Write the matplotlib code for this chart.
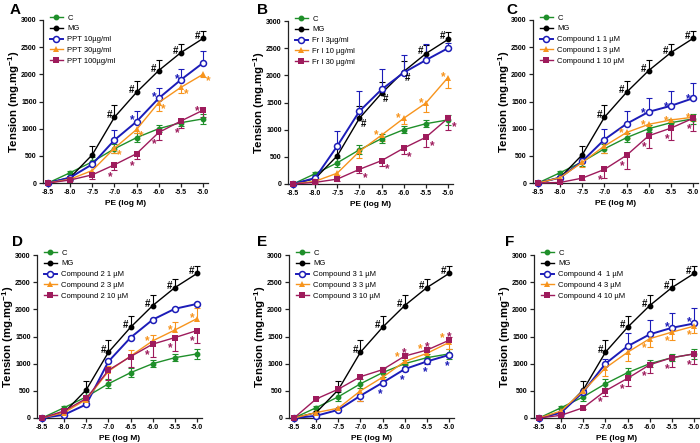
import numpy as np
import matplotlib
matplotlib.use("Agg")
import matplotlib.pyplot as plt

plt.rcParams["font.family"] = ["Liberation Sans", "DejaVu Sans"]
plt.rcParams["axes.unicode_minus"] = False
plt.rcParams["mathtext.fontset"] = "custom"
plt.rcParams["mathtext.bf"] = "Liberation Sans:bold"
plt.rcParams["mathtext.rm"] = "Liberation Sans:bold"
plt.rcParams["mathtext.default"] = "bf"

dose = np.array([-8.5, -8.0, -7.5, -7.0, -6.5, -6.0, -5.5, -5.0])
dose_labels = ["-8.5", "-8.0", "-7.5", "-7.0", "-6.5", "-6.0", "-5.5", "-5.0"]
tension_ticks = [0, 500, 1000, 1500, 2000, 2500, 3000]

# control and model groups (same in every panel)
c_mean = [0, 190, 390, 630, 835, 1000, 1110, 1180]
c_err = [0, 30, 80, 80, 80, 70, 60, 90]
mg_mean = [0, 100, 520, 1210, 1670, 2070, 2400, 2660]
mg_err = [0, 20, 160, 225, 210, 195, 160, 130]

# A: PPT
a_labels = ["PPT 10\u00b5g/ml", "PPT 30\u00b5g/ml", "PPT 100\u00b5g/ml"]
a_low = [0, 100, 345, 790, 1130, 1560, 1900, 2210]
a_low_err = [0, 20, 40, 180, 195, 185, 200, 225]
a_mid = [0, 70, 230, 640, 985, 1480, 1760, 2000]
a_mid_err = [0, 10, 40, 80, 70, 150, 110, 50]
a_high = [0, 55, 150, 335, 540, 930, 1140, 1340]
a_high_err = [0, 10, 80, 90, 100, 140, 130, 120]

# B: Fr I
b_labels = ["Fr I 3\u00b5g/ml", "Fr I 10 \u00b5g/ml", "Fr I 30 \u00b5g/ml"]
b_low = [0, 110, 700, 1340, 1740, 2050, 2280, 2500]
b_low_err = [0, 20, 280, 380, 370, 330, 300, 100]
b_mid = [0, 50, 200, 600, 900, 1210, 1490, 1960]
b_mid_err = [0, 10, 40, 130, 100, 110, 170, 190]
b_high = [0, 30, 90, 270, 430, 660, 860, 1210]
b_high_err = [0, 10, 30, 60, 100, 110, 170, 210]

# C: compound 1
c1_labels = ["Compound 1 1 \u00b5M", "Compound 1 3 \u00b5M", "Compound 1 10 \u00b5M"]
c1_low = [0, 100, 400, 800, 1090, 1310, 1420, 1560]
c1_low_err = [0, 20, 60, 190, 240, 250, 265, 280]
c1_mid = [0, 100, 380, 680, 930, 1080, 1160, 1210]
c1_mid_err = [0, 20, 90, 120, 100, 80, 60, 60]
c1_high = [0, 10, 90, 250, 510, 870, 1010, 1190]
c1_high_err = [0, 10, 30, 150, 250, 220, 220, 240]

# D: compound 2
c2_labels = ["Compound 2 1 \u00b5M", "Compound 2 3 \u00b5M", "Compound 2 10 \u00b5M"]
c2_low = [0, 60, 250, 1040, 1480, 1810, 2010, 2100]
c2_low_err = [0, 10, 20, 30, 30, 20, 20, 20]
c2_mid = [0, 100, 340, 860, 1140, 1420, 1620, 1830]
c2_mid_err = [0, 20, 40, 100, 120, 100, 150, 200]
c2_high = [0, 130, 360, 880, 1130, 1360, 1480, 1610]
c2_high_err = [0, 30, 50, 180, 200, 240, 250, 230]

# E: compound 3
c3_labels = ["Compound 3 1 \u00b5M", "Compound 3 3 \u00b5M", "Compound 3 10 \u00b5M"]
c3_low = [0, 40, 150, 410, 650, 900, 1040, 1160]
c3_low_err = [0, 10, 20, 100, 50, 40, 40, 40]
c3_mid = [0, 100, 180, 500, 750, 1040, 1190, 1390]
c3_mid_err = [0, 20, 30, 190, 60, 60, 80, 120]
c3_high = [0, 350, 530, 760, 890, 1140, 1250, 1430]
c3_high_err = [0, 20, 30, 40, 40, 60, 60, 60]

# F: compound 4
c4_labels = ["Compound 4  1 \u00b5M", "Compound 4 3 \u00b5M", "Compound 4 10 \u00b5M"]
c4_low = [0, 100, 480, 1000, 1320, 1540, 1660, 1740]
c4_low_err = [0, 20, 40, 80, 240, 260, 270, 280]
c4_mid = [0, 130, 500, 920, 1210, 1460, 1580, 1690]
c4_mid_err = [0, 20, 50, 140, 160, 150, 140, 130]
c4_high = [0, 50, 190, 500, 730, 980, 1110, 1180]
c4_high_err = [0, 10, 30, 100, 140, 160, 180, 180]

GREEN = "#1f8f2a"
BLUE = "#1c1cb8"
ORANGE = "#f7941d"
PURPLE = "#9e1b5c"

W, H = 700, 443
fig = plt.figure(figsize=(7.0, 4.43), dpi=100)

# panel: letter, left px, top px, letter x, labels, series, errors, error up flags,
# stars [(series, doses, dx, dy)], hashes [(doses, dx, dy)]
panels = [
    dict(letter="A", left=43, top=20, lx=10, ly=3, labels=a_labels,
         means=[a_low, a_mid, a_high], errs=[a_low_err, a_mid_err, a_high_err],
         up=[True, False, False],
         stars=[(0, [4, 5, 6], -4, 4), (1, [3, 4, 5, 6, 7], 5, -4),
                (2, [3, 4, 5, 6], -4, -9), (2, [7], -6, 2)],
         hashes=[([3, 4, 5, 6, 7], -5, 2)]),
    dict(letter="B", left=288, top=21, lx=257, ly=3, labels=b_labels,
         means=[b_low, b_mid, b_high], errs=[b_low_err, b_mid_err, b_high_err],
         up=[True, False, False],
         stars=[(1, [4, 5, 6, 7], -5, 3), (2, [3, 4, 5, 6, 7], 6, -6)],
         hashes=[([3, 4, 5], 4, -6), ([6, 7], -5, 3)]),
    dict(letter="C", left=533, top=20, lx=506, ly=3, labels=c1_labels,
         means=[c1_low, c1_mid, c1_high], errs=[c1_low_err, c1_mid_err, c1_high_err],
         up=[True, False, False],
         stars=[(0, [5, 6, 7], -5, 2), (1, [4, 5, 6, 7], -5, 2),
                (2, [3, 4, 5, 6, 7], -4, -8)],
         hashes=[([3, 4, 5, 6, 7], -5, 2)]),
    dict(letter="D", left=37, top=255, lx=12, ly=235, labels=c2_labels,
         means=[c2_low, c2_mid, c2_high], errs=[c2_low_err, c2_mid_err, c2_high_err],
         up=[True, True, False],
         stars=[(1, [5, 6, 7], -5, 3), (2, [5, 6, 7], -5, -8)],
         hashes=[([3, 4, 5, 6, 7], -5, 2)]),
    dict(letter="E", left=289, top=255, lx=257, ly=235, labels=c3_labels,
         means=[c3_low, c3_mid, c3_high], errs=[c3_low_err, c3_mid_err, c3_high_err],
         up=[False, False, True],
         stars=[(0, [4, 5, 6, 7], -2, -8), (1, [5, 6, 7], -7, 7), (2, [5, 6, 7], 0, 6)],
         hashes=[([3, 4, 5, 6, 7], -5, 2)]),
    dict(letter="F", left=534, top=255, lx=505, ly=235, labels=c4_labels,
         means=[c4_low, c4_mid, c4_high], errs=[c4_low_err, c4_mid_err, c4_high_err],
         up=[True, False, False],
         stars=[(0, [6, 7], -5, 4), (1, [5, 6, 7], -5, -6), (2, [3, 4, 5, 6, 7], -5, -8)],
         hashes=[([3, 4, 5, 6, 7], -5, 2)]),
]

styles = [
    dict(color=BLUE, marker="o", mfc="white", ms=4.3, mew=1.1, lw=1.4),
    dict(color=ORANGE, marker="^", mfc=ORANGE, ms=4.0, mew=0, lw=1.0),
    dict(color=PURPLE, marker="s", mfc=PURPLE, ms=3.8, mew=0, lw=1.0),
]


def bars(ax, m, e, color, up=True, down=False):
    m = np.asarray(m, float)
    e = np.asarray(e, float)
    k = e > 0
    for flag, sign in ((up, 1), (down, -1)):
        if not flag:
            continue
        end = m + sign * e
        ax.vlines(dose[k], m[k], end[k], color=color, lw=0.8, clip_on=False, zorder=1)
        ax.plot(dose[k], end[k], ls="none", marker="_", ms=4.5, mew=0.8,
                color=color, clip_on=False, zorder=1)


ax_w, ax_h = 165, 163
for p in panels:
    ax = fig.add_axes([p["left"] / W, 1 - (p["top"] + ax_h) / H, ax_w / W, ax_h / H])
    ax.set_xlim(-8.5 - 5 / 44.3, -5.0 + 5 / 44.3)
    ax.set_ylim(0, 3000)

    bars(ax, c_mean, c_err, GREEN, up=True, down=True)
    bars(ax, mg_mean, mg_err, "black", up=True)
    for s, m, e, u in zip(styles, p["means"], p["errs"], p["up"]):
        bars(ax, m, e, s["color"], up=u, down=not u)

    ax.plot(dose, c_mean, color=GREEN, marker="o", ms=3.2, lw=1.0, label="C",
            clip_on=False, zorder=3)
    ax.plot(dose, mg_mean, color="black", marker="o", ms=3.2, lw=1.0, label="MG",
            clip_on=False, zorder=3)
    for s, m, lab in zip(styles, p["means"], p["labels"]):
        ax.plot(dose, m, color=s["color"], marker=s["marker"], mfc=s["mfc"],
                mec=s["color"], ms=s["ms"], mew=s["mew"], lw=s["lw"], label=lab,
                clip_on=False, zorder=4)

    for si, idx, dx, dy in p["stars"]:
        col = styles[si]["color"]
        for i in idx:
            ax.annotate("*", xy=(dose[i], p["means"][si][i]), xytext=(dx, dy - 3),
                        textcoords="offset pixels", ha="center", va="center",
                        fontsize=8.5, fontweight="bold", color=col, zorder=5)
    for idx, dx, dy in p["hashes"]:
        for i in idx:
            ax.annotate("#", xy=(dose[i], mg_mean[i]), xytext=(dx, dy),
                        textcoords="offset pixels", ha="center", va="center",
                        fontsize=7, fontweight="bold", color="black", zorder=5)

    for side in ("top", "right"):
        ax.spines[side].set_visible(False)
    for side in ("left", "bottom"):
        ax.spines[side].set_linewidth(0.9)
        ax.spines[side].set_color("#222222")
    ax.set_xticks(dose)
    ax.set_xticklabels(dose_labels)
    ax.set_yticks(tension_ticks)
    ax.tick_params(length=3, width=0.9, pad=1.5, labelsize=5, color="#222222")
    for t in ax.get_xticklabels() + ax.get_yticklabels():
        t.set_fontweight("bold")

    ax.set_xlabel("PE (log M)", fontsize=6, fontweight="bold", labelpad=3)
    ax.set_ylabel("Tension (mg.mg$^{-1}$)", fontsize=8.2, fontweight="bold")
    ax.yaxis.set_label_coords(-0.125, 0.5)

    leg = ax.legend(loc="upper left", bbox_to_anchor=(0.04, 1.035), frameon=False,
                    fontsize=5.5, handlelength=1.8, handletextpad=0.5,
                    labelspacing=0.45, borderpad=0, borderaxespad=0)

    fig.text(p["lx"] / W, 1 - p["ly"] / H, p["letter"], ha="left", va="top",
             fontsize=11, fontweight="bold")

fig.savefig("out.png", dpi=100)
